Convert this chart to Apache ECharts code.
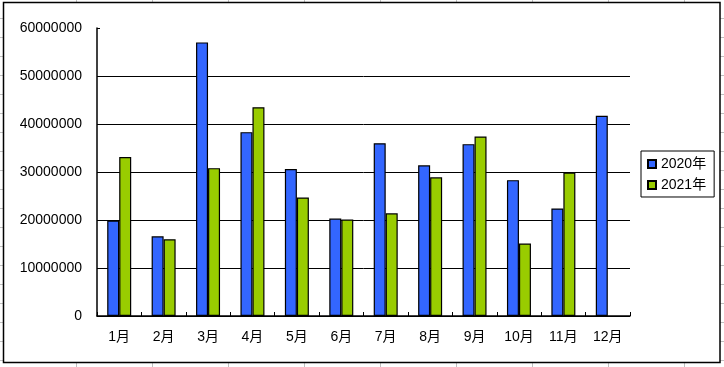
<!DOCTYPE html>
<html>
<head>
<meta charset="utf-8">
<script src="https://cdn.jsdelivr.net/npm/echarts@6/dist/echarts.min.js"></script>
<style>
html,body{margin:0;padding:0;background:#fff;}
#chart{width:724px;height:367px;}
</style>
</head>
<body>
<div id="chart"></div>
<script>
var categories = ['1月','2月','3月','4月','5月','6月','7月','8月','9月','10月','11月','12月'];
var seriesNames = ['2020年','2021年'];
var values2020 = [19900000,16600000,57000000,38300000,30600000,20300000,36000000,31400000,35800000,28300000,22400000,41700000];
var values2021 = [33100000,16000000,30800000,43500000,24700000,20100000,21400000,28900000,37400000,15100000,29900000,null];
var yTicks = [0,10000000,20000000,30000000,40000000,50000000,60000000];

var FONT = '"Liberation Sans", "Noto Sans CJK SC", sans-serif';

// Excel sheet gridlines around the chart frame (decoration)
var deco = [];
var gray = '#c0c0c0';
for (var k = 1; k <= 9; k++) {
  var x = 76 * k;
  deco.push({type:'line', silent:true, shape:{x1:x+0.5,y1:0,x2:x+0.5,y2:3}, style:{stroke:gray,lineWidth:1}});
  deco.push({type:'line', silent:true, shape:{x1:x+0.5,y1:363,x2:x+0.5,y2:367}, style:{stroke:gray,lineWidth:1}});
}
for (var j = 0; j <= 18; j++) {
  var y = 18 + 19 * j;
  deco.push({type:'line', silent:true, shape:{x1:0,y1:y+0.5,x2:3,y2:y+0.5}, style:{stroke:gray,lineWidth:1}});
  deco.push({type:'line', silent:true, shape:{x1:720,y1:y+0.5,x2:724,y2:y+0.5}, style:{stroke:gray,lineWidth:1}});
}
deco.push({type:'rect', silent:true, shape:{x:3.5,y:2.5,width:716.5,height:360}, style:{fill:null,stroke:'#000',lineWidth:1.5}});

var chart = echarts.init(document.getElementById('chart'), null, {renderer:'canvas'});
chart.setOption({
  backgroundColor:'#fff',
  animation:false,
  textStyle:{fontFamily:FONT},
  graphic: deco,
  grid:{left:97, right:94, top:28, bottom:51, containLabel:false},
  legend:{
    orient:'vertical',
    left:641, top:151,
    padding:[6,8,5,6],
    itemGap:7,
    itemWidth:8, itemHeight:8,
    icon:'rect',
    borderColor:'#000', borderWidth:1,
    backgroundColor:'#fff',
    textStyle:{fontFamily:FONT, fontSize:14, color:'#000'},
    data: seriesNames
  },
  xAxis:{
    type:'category',
    data:categories,
    boundaryGap:true,
    axisLine:{lineStyle:{color:'#000',width:1.5}},
    axisTick:{show:true, inside:true, length:4, lineStyle:{color:'#000'}},
    axisLabel:{fontFamily:FONT, fontSize:14, color:'#000', margin:14},
    splitLine:{show:false}
  },
  yAxis:{
    type:'value',
    min:0, max:60000000, interval:10000000,
    axisLine:{show:true, lineStyle:{color:'#000',width:1.5}},
    axisTick:{show:true, inside:true, length:3, lineStyle:{color:'#000'}},
    axisLabel:{fontFamily:FONT, fontSize:14, color:'#000', margin:15,
      formatter:function(v){ return yTicks.indexOf(v) >= 0 ? String(v) : ''; }},
    splitLine:{show:true, showMaxLine:false, lineStyle:{color:'#000', width:1}}
  },
  series:[
    {name:seriesNames[0], type:'bar', data:values2020, barWidth:12, barGap:'0%',
     itemStyle:{color:'#3366FF', borderColor:'#000', borderWidth:1.2}},
    {name:seriesNames[1], type:'bar', data:values2021, barWidth:12, barGap:'0%',
     itemStyle:{color:'#99CC00', borderColor:'#000', borderWidth:1.2}}
  ]
});
</script>
</body>
</html>
